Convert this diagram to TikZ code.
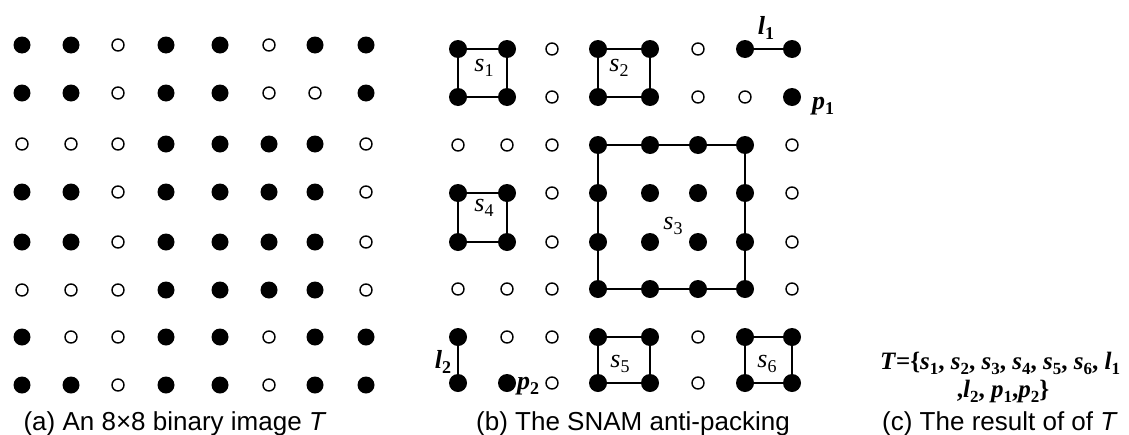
\documentclass[tikz,border=0pt]{standalone}
\usepackage{fontspec}
\setmainfont{Liberation Serif}
\newfontfamily\capfont{Liberation Sans}

% symbol with a lowered index, e.g. s_1; optional argument: index size
\newcommand\symsub[3][17]{\textit{#2}\raisebox{-0.22em}{\fontsize{#1}{#1}\selectfont #3}}

\tikzset{
  fulldot/.style={circle, fill=black, inner sep=0pt, minimum size=17pt},
  bigdot/.style={circle, fill=black, inner sep=0pt, minimum size=18pt},
  emptydot/.style={circle, draw=black, line width=1.4pt, fill=white, inner sep=0pt, minimum size=12pt},
  edge/.style={line width=1.8pt},
  lbl/.style={font=\fontsize{26}{26}\selectfont, inner sep=0pt},
  boldlbl/.style={font=\fontsize{26}{26}\selectfont\bfseries, inner sep=0pt},
  setline/.style={font=\fontsize{25}{25}\selectfont\bfseries, inner sep=0pt, anchor=base},
  caption/.style={font=\capfont\fontsize{26}{26}\selectfont, inner sep=0pt, anchor=base}
}

\begin{document}
\begin{tikzpicture}[x=1pt,y=-1pt]
\useasboundingbox (0,0) rectangle (1129,434);

% binary image T, 1 = black pixel
\def\pat{{1,1,0,1,1,0,1,1},{1,1,0,1,1,0,0,1},{0,0,0,1,1,1,1,0},{1,1,0,1,1,1,1,0},{1,1,0,1,1,1,1,0},{0,0,0,1,1,1,1,0},{1,0,0,1,1,0,1,1},{1,1,0,1,1,0,1,1}}

% (a) the plain grid
\foreach \row [count=\ri] in \pat {
  \foreach \val [count=\ci] in \row {
    \pgfmathsetmacro\px{{22,71,118,166,220,269,315,366}[\ci-1]}
    \pgfmathsetmacro\py{{45,93,144,192,242,290,337,385}[\ri-1]}
    \ifnum\val=1 \def\st{fulldot}\else\def\st{emptydot}\fi
    \node[\st] (a-\ri-\ci) at (\px,\py) {};
  }
}

% (b) the same grid, packed into squares, lines and points
\foreach \row [count=\ri] in \pat {
  \foreach \val [count=\ci] in \row {
    \pgfmathsetmacro\px{{458,507,552,598,650,698,745,792}[\ci-1]}
    \pgfmathsetmacro\py{{49,97,145,193,242,289,337,383}[\ri-1]}
    \ifnum\val=1 \def\st{bigdot}\else\def\st{emptydot}\fi
    \node[\st] (b-\ri-\ci) at (\px,\py) {};
  }
}

\draw[edge] (b-1-1) -- (b-1-2) -- (b-2-2) -- (b-2-1) -- (b-1-1);
\draw[edge] (b-1-4) -- (b-1-5) -- (b-2-5) -- (b-2-4) -- (b-1-4);
\draw[edge] (b-3-4) -- (b-3-7) -- (b-6-7) -- (b-6-4) -- (b-3-4);
\draw[edge] (b-4-1) -- (b-4-2) -- (b-5-2) -- (b-5-1) -- (b-4-1);
\draw[edge] (b-7-4) -- (b-7-5) -- (b-8-5) -- (b-8-4) -- (b-7-4);
\draw[edge] (b-7-7) -- (b-7-8) -- (b-8-8) -- (b-8-7) -- (b-7-7);
\draw[edge] (b-1-7) -- (b-1-8);
\draw[edge] (b-7-1) -- (b-8-1);

\node[lbl] (s1) at (484,68) {\symsub[18]{s}{1}};
\node[lbl] (s2) at (619,68) {\symsub[18]{s}{2}};
\node[lbl] (s3) at (673,226) {\symsub[18]{s}{3}};
\node[lbl] (s4) at (484,208) {\symsub[18]{s}{4}};
\node[lbl] (s5) at (620,364) {\symsub[18]{s}{5}};
\node[lbl] (s6) at (767,364) {\symsub[18]{s}{6}};
\node[boldlbl] (l1) at (766,28) {\symsub[18]{l}{1}};
\node[boldlbl] (l2) at (443,362) {\symsub[18]{l}{2}};
\node[boldlbl] (p1) at (823,106) {\symsub[18]{p}{1}};
\node[boldlbl] (p2) at (528,386) {\symsub[18]{p}{2}};

% (c) the resulting set
\node[setline] (res1) at (1000,369)
  {\textit{T}=\{\symsub{s}{1}, \symsub{s}{2}, \symsub{s}{3}, \symsub{s}{4}, \symsub{s}{5}, \symsub{s}{6}, \symsub{l}{1}};
\node[setline] (res2) at (1003,397)
  {,\symsub{l}{2}, \symsub{p}{1},\symsub{p}{2}\}};

% captions
\node[caption] (capa) at (175,430) {(a) An 8×8 binary image \textit{T}};
\node[caption] (capb) at (633,430) {(b) The SNAM anti-packing};
\node[caption] (capc) at (1000,430) {(c) The result of of \textit{T}};
\end{tikzpicture}
\end{document}
